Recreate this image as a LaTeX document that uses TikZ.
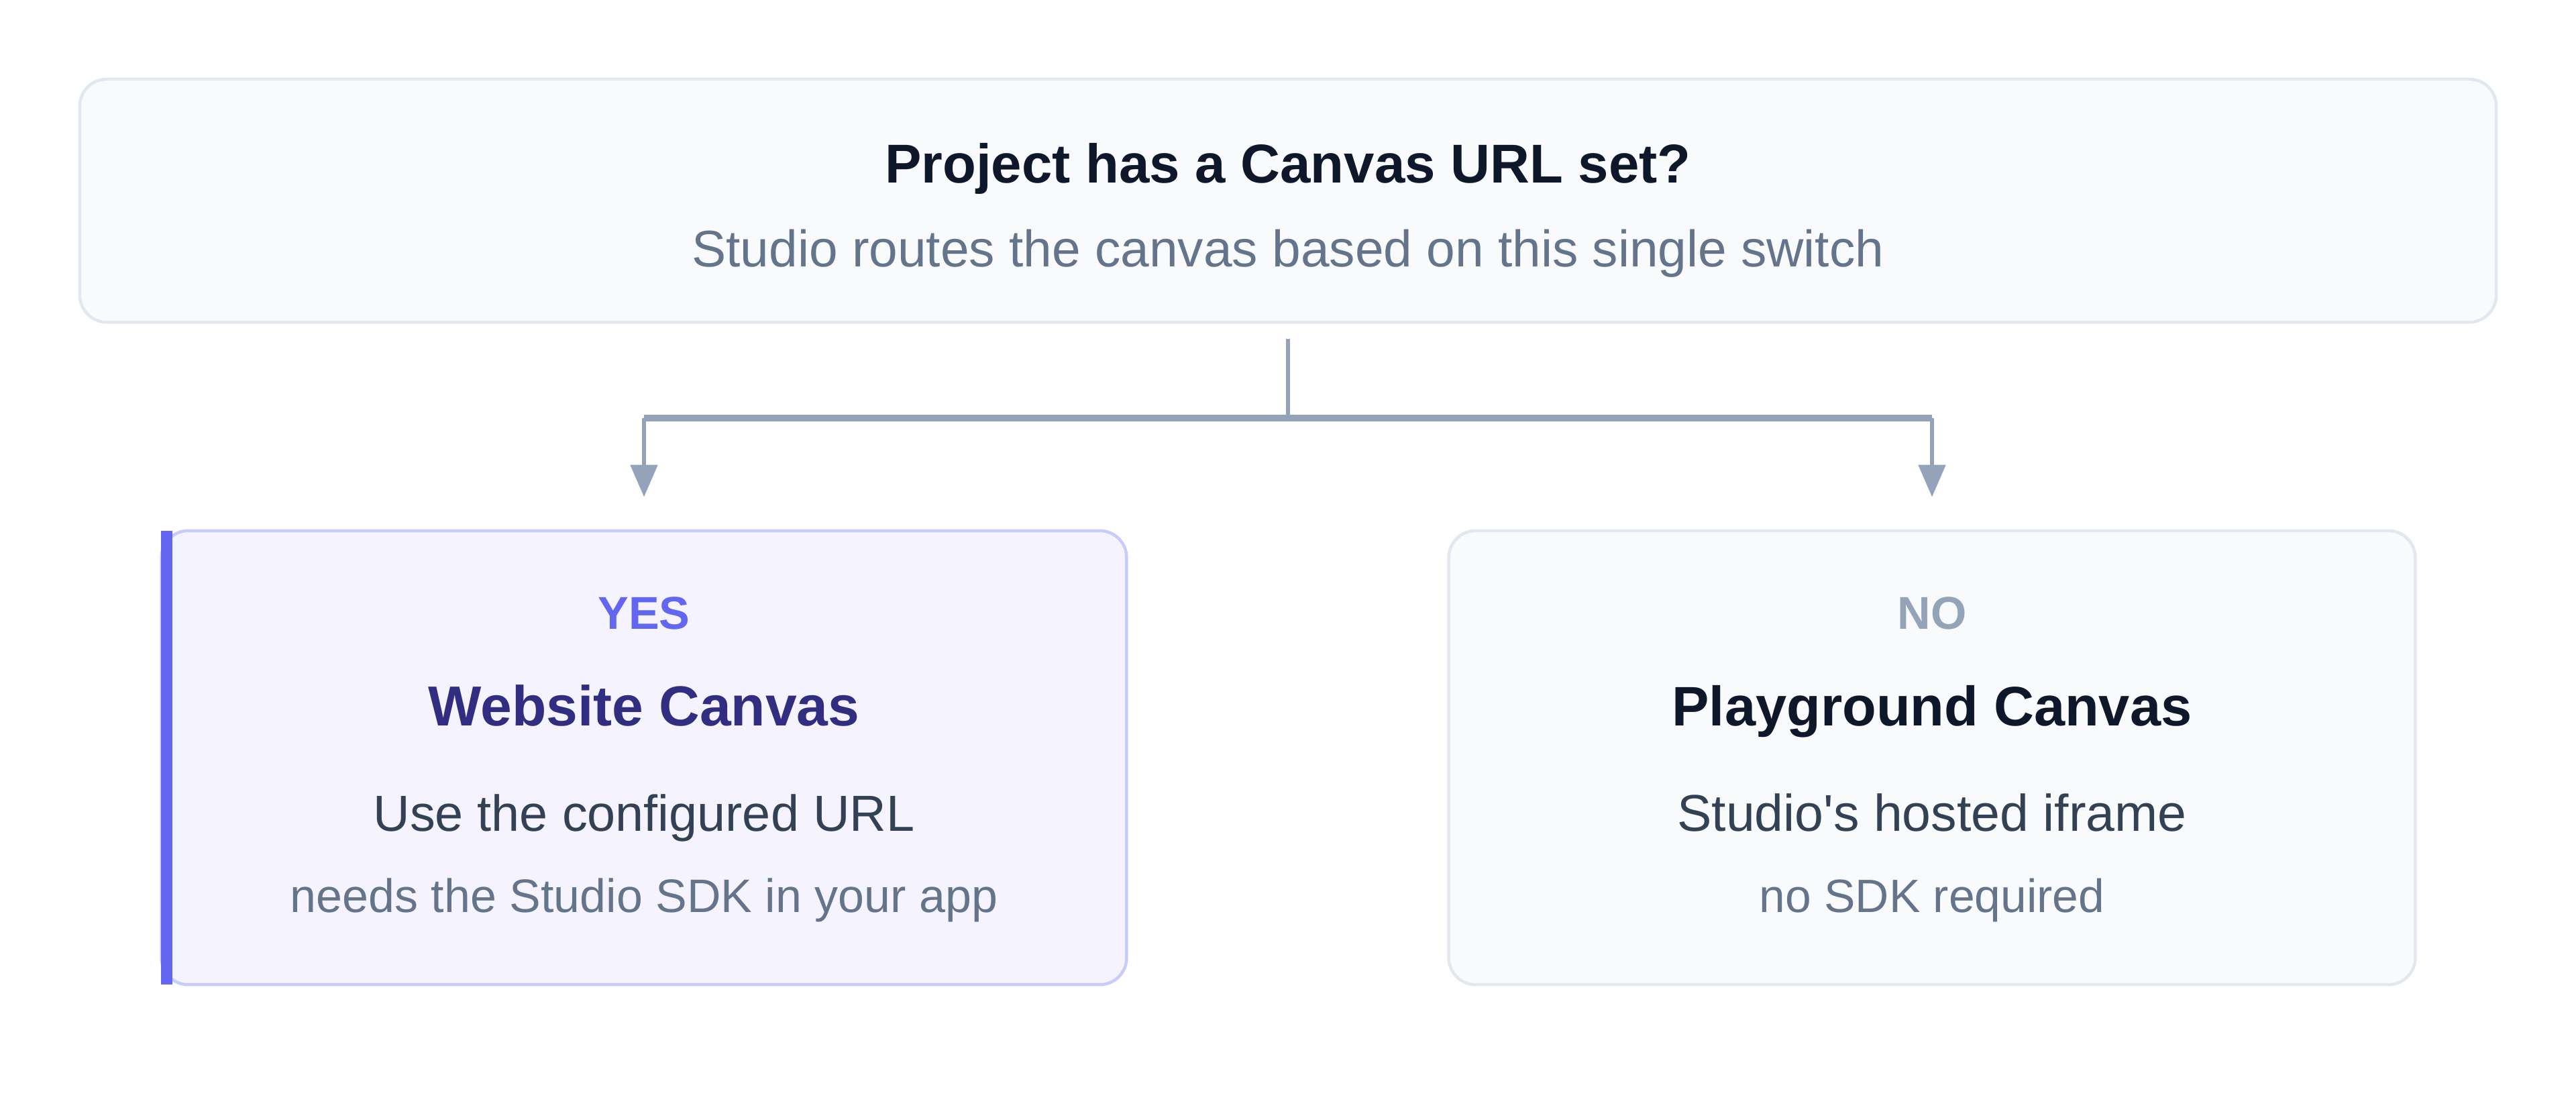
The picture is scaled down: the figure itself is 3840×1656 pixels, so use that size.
\documentclass[tikz,border=0pt]{standalone}
\usepackage{fontspec}
\setmainfont{Liberation Sans}
\usetikzlibrary{arrows.meta}
\definecolor{ink}{HTML}{0F172A}
\definecolor{mute}{HTML}{64748B}
\definecolor{body}{HTML}{334155}
\definecolor{wirec}{HTML}{94A3B8}
\definecolor{edge}{HTML}{E2E8F0}
\definecolor{paper}{HTML}{F8FAFC}
\definecolor{indigo}{HTML}{6366F1}
\definecolor{deep}{HTML}{312E81}
\definecolor{lilac}{HTML}{F4F3FE}
\definecolor{lilacedge}{HTML}{C7CDFB}
\newcommand{\fs}[1]{\fontsize{#1}{#1}\selectfont}
\tikzset{
	card/.style={draw=edge, fill=paper, line width=0.045cm, rounded corners=0.4cm, inner sep=0pt},
	wire/.style={draw=wirec, line width=0.055cm},
	txt/.style={anchor=base, inner sep=0pt},
}

\begin{document}
\begin{tikzpicture}[x=0.01cm, y=-0.01cm]
		\useasboundingbox (0, 0) rectangle (3840, 1656);
		% the question
		\node[card, minimum width=36cm, minimum height=3.62cm] (q) at (1920, 299) {};
		\node[txt, text=ink, font=\fs{23.2pt}\bfseries] (qt) at (1920, 272) {Project has a Canvas URL set?};
		\node[txt, text=mute, font=\fs{21.8pt}] (qs) at (1920, 397) {Studio routes the canvas based on this single switch};
		% the two answers
		\node[card, draw=lilacedge, fill=lilac, minimum width=14.38cm, minimum height=6.76cm] (yes) at (960, 1129) {};
		\fill[indigo] (240, 791) rectangle (257, 1467);
		\node[card, minimum width=14.4cm, minimum height=6.76cm] (no) at (2880, 1129) {};
		\node[txt, text=indigo, font=\fs{19.5pt}\bfseries] (yt) at (960, 937) {YES};
		\node[txt, text=deep, font=\fs{23.9pt}\bfseries] (yh) at (960, 1081) {Website Canvas};
		\node[txt, text=body, font=\fs{21.5pt}] (yd) at (960, 1238) {Use the configured URL};
		\node[txt, text=mute, font=\fs{19.9pt}] (yn) at (960, 1359) {needs the Studio SDK in your app};
		\node[txt, text=wirec, font=\fs{19.5pt}\bfseries] (nt) at (2880, 937) {NO};
		\node[txt, text=ink, font=\fs{23.6pt}\bfseries] (nh) at (2880, 1081) {Playground Canvas};
		\node[txt, text=body, font=\fs{21.9pt}] (nd) at (2880, 1238) {Studio\textquotesingle s hosted iframe};
		\node[txt, text=mute, font=\fs{19.8pt}] (nn) at (2880, 1359) {no SDK required};
		% the switch
		\coordinate (fork) at (1920, 623);
		\draw[wire] ([yshift=-0.23cm]q.south) -- (fork);
		\draw[wire, line width=0.1cm] (yes |- fork) -- (no |- fork);
		\draw[wire, shorten >=0.48cm, arrows={-Triangle[length=0.48cm, width=0.4cm]}] (yes |- fork) -- (yes.north);
		\draw[wire, shorten >=0.48cm, arrows={-Triangle[length=0.48cm, width=0.4cm]}] (no |- fork) -- (no.north);
	\end{tikzpicture}
\end{document}
